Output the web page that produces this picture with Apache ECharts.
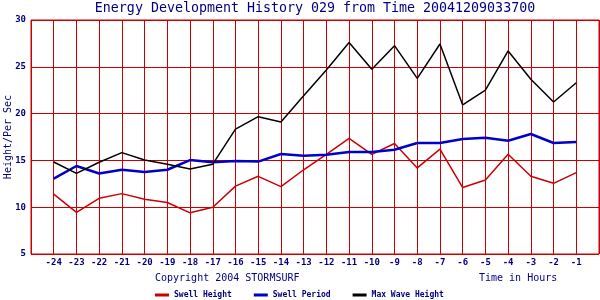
<!DOCTYPE html>
<html><head><meta charset="utf-8">
<script src="https://cdn.jsdelivr.net/npm/echarts@6/dist/echarts.min.js"></script>
<style>html,body{margin:0;padding:0;background:#fff}#c{width:600px;height:300px}</style>
</head><body><div id="c"></div>
<script>
const hours = [-24,-23,-22,-21,-20,-19,-18,-17,-16,-15,-14,-13,-12,-11,-10,-9,-8,-7,-6,-5,-4,-3,-2,-1];
const swellHeight = [11.4,9.45,10.95,11.45,10.85,10.5,9.4,10.0,12.25,13.3,12.2,14.0,15.65,17.36,15.65,16.8,14.2,16.2,12.1,12.9,15.65,13.3,12.55,13.7];
const swellPeriod = [13.05,14.4,13.6,14.0,13.76,14.0,15.04,14.8,14.94,14.87,15.68,15.5,15.6,15.9,15.9,16.14,16.86,16.86,17.29,17.43,17.1,17.82,16.86,16.97];
const maxWave = [14.83,13.62,14.8,15.83,15.04,14.6,14.08,14.6,18.35,19.67,19.1,21.9,24.66,27.6,24.73,27.26,23.77,27.44,20.92,22.5,26.69,23.66,21.24,23.3];
const yTicks = [5,10,15,20,25,30];
const titleText = 'Energy Development History 029 from Time 20041209033700';

const navy = '#000080';
const gridRed = '#cc0000';
const mono = 'DejaVu Sans Mono';
const pairs = arr => hours.map((h,i)=>[h,arr[i]]);

const chart = echarts.init(document.getElementById('c'), null, {renderer:'canvas'});
chart.setOption({
  animation:false,
  backgroundColor:'#fff',
  title:{text:titleText,left:315,textAlign:'center',top:2,padding:0,textStyle:{fontFamily:mono,fontSize:13.3,fontWeight:'normal',color:navy}},
  grid:{left:31,right:1,top:20,bottom:46,containLabel:false,outerBoundsMode:'none',show:true,borderColor:gridRed,borderWidth:1},
  xAxis:{type:'value',min:-25,max:0,interval:1,
    axisLine:{show:false},axisTick:{show:false},
    splitLine:{show:true,lineStyle:{color:gridRed,width:1}},
    axisLabel:{color:navy,fontFamily:mono,fontSize:9,fontWeight:'bold',margin:4,
      formatter:v=>(hours.indexOf(v)>=0? String(v):'')}},
  yAxis:{type:'value',min:yTicks[0],max:yTicks[yTicks.length-1],interval:5,
    name:'Height/Per Sec',nameLocation:'middle',nameGap:18,nameMoveOverlap:false,
    nameTextStyle:{color:navy,fontFamily:mono,fontSize:10},
    axisLine:{show:false},axisTick:{show:false},
    splitLine:{show:true,lineStyle:{color:gridRed,width:1}},
    axisLabel:{color:navy,fontFamily:mono,fontSize:9,fontWeight:'bold',margin:5}},
  legend:{left:155,top:291,padding:0,itemWidth:14,itemHeight:3,itemGap:22,icon:'rect',
    textStyle:{color:navy,fontFamily:mono,fontSize:8,fontWeight:'bold'},
    data:['Swell Height','Swell Period','Max Wave Height']},
  graphic:[
    {type:'text',left:155,top:273,style:{text:'Copyright 2004 STORMSURF',fill:navy,font:'10px "DejaVu Sans Mono"'}},
    {type:'text',left:479,top:273,style:{text:'Time in Hours',fill:navy,font:'10px "DejaVu Sans Mono"'}}
  ],
  series:[
    {name:'Swell Height',type:'line',data:pairs(swellHeight),symbol:'none',color:'#cc0000',lineStyle:{width:1.5,color:'#cc0000'}},
    {name:'Swell Period',type:'line',data:pairs(swellPeriod),symbol:'none',color:'#0000cc',lineStyle:{width:2.5,color:'#0000cc'}},
    {name:'Max Wave Height',type:'line',data:pairs(maxWave),symbol:'none',color:'#000000',lineStyle:{width:1.5,color:'#000000'}}
  ]
});
</script></body></html>
